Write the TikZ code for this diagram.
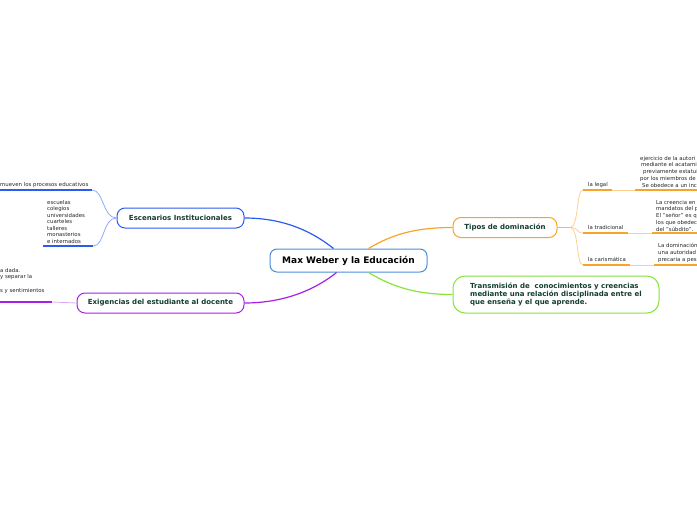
\documentclass[tikz,border=0pt]{standalone}
\usepackage{fontspec}
\setmainfont{DejaVu Sans}
\usetikzlibrary{positioning}
\definecolor{rootblue}{HTML}{4A90D9}
\definecolor{escblue}{HTML}{2A5CF0}
\definecolor{escblight}{HTML}{8FA9F7}
\definecolor{exigpurple}{HTML}{A81FE8}
\definecolor{exigplight}{HTML}{DDA8F5}
\definecolor{domorange}{HTML}{F7A52A}
\definecolor{domolight}{HTML}{FAD193}
\definecolor{transgreen}{HTML}{86E43A}
\definecolor{labeldark}{HTML}{133D2F}
\tikzset{
    rootbox/.style={rectangle, draw=rootblue, line width=1pt, fill=white, rounded corners=7pt, minimum width=157pt, minimum height=23pt, font=\fontsize{9}{11}\selectfont\bfseries},
    topicbox/.style={rectangle, line width=1pt, fill=white, rounded corners=8pt, minimum height=20pt, text=labeldark, font=\fontsize{7}{8.2}\selectfont\bfseries},
    leaf/.style={inner sep=0pt, text=black!85, font=\fontsize{5.4}{6.7}\selectfont, align=left},
    branch/.style={line width=1.2pt},
    twig/.style={line width=0.8pt},
    uline/.style={line width=1.6pt}
}
\begin{document}
\begin{tikzpicture}[x=1pt,y=-1pt]
    \useasboundingbox (0,0) rectangle (697,520);
    \clip (0,0) rectangle (697,520);
    % main topic and first level
    \node[rootbox] (weber) at (348.5,260.5) {Max Weber y la Educación};
    \node[topicbox, draw=escblue, minimum width=127pt] (escen) at (180.5,218) {Escenarios Institucionales};
    \node[topicbox, draw=exigpurple, minimum width=167pt] (exig) at (160.5,303) {Exigencias del estudiante al docente};
    \node[topicbox, draw=domorange, minimum width=104pt] (tipos) at (505,227.5) {Tipos de dominación};
    \node[topicbox, draw=transgreen, minimum width=206pt, minimum height=37pt, rounded corners=12pt, align=left] (trans) at (556,294.5) {Transmisión de\ \ conocimientos y creencias\\mediante una relación disciplinada entre el\\que enseña y el que aprende.};
    \draw[branch, escblue] ([xshift=-15pt]weber.north) .. controls +(-25,-20) and +(35,0) .. (escen.east);
    \draw[branch, exigpurple] ([xshift=-12pt]weber.south) .. controls +(-25,20) and +(35,0) .. (exig.east);
    \draw[branch, domorange] ([xshift=20pt]weber.north) .. controls +(25,-15) and +(-35,0) .. (tipos.west);
    \draw[branch, transgreen] ([xshift=20pt]weber.south) .. controls +(25,15) and +(-35,0) .. (trans.west);

    % escenarios
    \coordinate (es1a) at (0,190);
    \coordinate (es1b) at (92,190);
    \coordinate (es2a) at (43,246);
    \coordinate (es2b) at (93,246);
    \node[leaf, anchor=base west] (procesos) at (0,186) {mueven los procesos educativos};
    \node[leaf, anchor=base west, font=\fontsize{5.4}{6.5}\selectfont] (lugares) at (47,243) {escuelas\\colegios\\universidades\\cuarteles\\talleres\\monasterios\\e internados};
    \draw[uline, escblue] (es1a) -- (es1b);
    \draw[uline, escblue] (es2a) -- (es2b);
    \draw[twig, escblight] (escen.west) .. controls +(-14,0) and +(12,0) .. (es1b);
    \draw[twig, escblight] (escen.west) .. controls +(-14,0) and +(12,0) .. (es2b);

    % exigencias
    \coordinate (ex1a) at (0,302);
    \coordinate (ex1b) at (52,302);
    \node[leaf, anchor=base west] (dada) at (0,292) {a dada.\\y separar la\\[6.6pt]s y sentimientos};
    \draw[uline, exigpurple] (ex1a) -- (ex1b);
    \draw[twig, exigplight] (exig.west) -- (ex1b);

    % tipos de dominacion
    \coordinate (fork) at (570,227.5);
    \coordinate (lg1) at (583,190);  \coordinate (lg2) at (612,190);
    \coordinate (lg3) at (635,190);  \coordinate (lg4) at (697,190);
    \coordinate (tr1) at (583,233);  \coordinate (tr2) at (628,233);
    \coordinate (tr3) at (652,233);  \coordinate (tr4) at (697,233);
    \coordinate (ca1) at (583,265);  \coordinate (ca2) at (630,265);
    \coordinate (ca3) at (654,265);  \coordinate (ca4) at (697,265);
    \draw[twig, domorange!80] (tipos.east) -- (fork);
    \foreach \c in {lg1, tr1, ca1}
        \draw[twig, domolight] (fork) .. controls +(9,0) and +(-7,0) .. (\c);
    \node[leaf, anchor=base west] (legal) at (588,186) {la legal};
    \node[leaf, anchor=base west] (tradic) at (588,229.5) {la tradicional};
    \node[leaf, anchor=base west] (carism) at (588,261) {la carismática};
    \node[leaf, anchor=base west] (legaltxt) at (640,187) {ejercicio de la autori\\\hspace*{1pt}mediante el acatami\\\hspace*{3pt}previamente estatui\\por los miembros de\\\hspace*{2pt}Se obedece a un inc};
    \node[leaf, anchor=base west] (tradtxt) at (656,231) {La creencia en\\mandatos del p\\El "señor" es q\\los que obedec\\del "súbdito".};
    \node[leaf, anchor=base west] (caristxt) at (658,261) {La dominación\\una autoridad\\precaria a pes};
    \draw[uline, domorange] (lg1) -- (lg2);
    \draw[twig, domolight] (lg2) -- (lg3);
    \draw[uline, domorange] (lg3) -- (lg4);
    \draw[uline, domorange] (tr1) -- (tr2);
    \draw[twig, domolight] (tr2) -- (tr3);
    \draw[uline, domorange] (tr3) -- (tr4);
    \draw[uline, domorange] (ca1) -- (ca2);
    \draw[twig, domolight] (ca2) -- (ca3);
    \draw[uline, domorange] (ca3) -- (ca4);
\end{tikzpicture}
\end{document}
